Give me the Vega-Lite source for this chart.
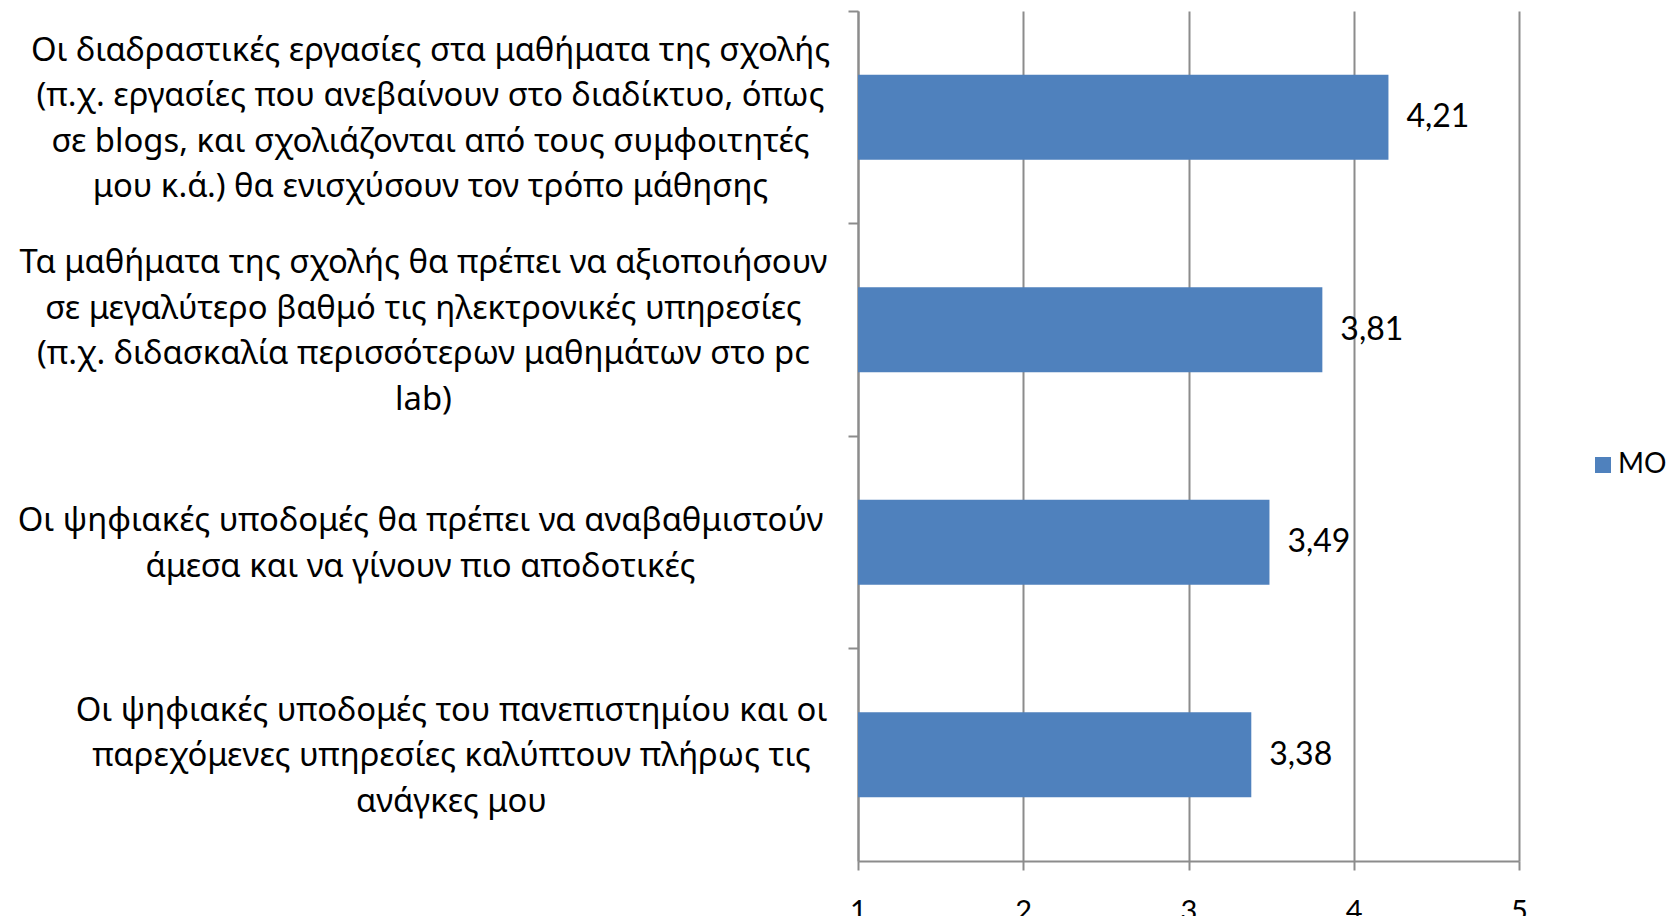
{
  "$schema": "https://vega.github.io/schema/vega-lite/v6.json",
  "width": 661,
  "height": 850,
  "autosize": {"type": "none"},
  "padding": {"left": 858, "top": 11, "right": 148, "bottom": 55},
  "background": "white",
  "config": {
    "view": {"stroke": null},
    "locale": {"number": {"decimal": ",", "thousands": ".", "grouping": [3], "currency": ["", " €"]}}
  },
  "data": {
    "values": [
      {"q": "Οι διαδραστικές εργασίες στα μαθήματα της σχολής\n(π.χ. εργασίες που ανεβαίνουν στο διαδίκτυο, όπως\nσε blogs, και σχολιάζονται από τους συμφοιτητές\nμου κ.ά.) θα ενισχύσουν τον τρόπο μάθησης", "value": 4.21, "series": "ΜΟ"},
      {"q": "Τα μαθήματα της σχολής θα πρέπει να αξιοποιήσουν\nσε μεγαλύτερο βαθμό τις ηλεκτρονικές υπηρεσίες\n(π.χ. διδασκαλία περισσότερων μαθημάτων στο pc\nlab)", "value": 3.81, "series": "ΜΟ"},
      {"q": "Οι ψηφιακές υποδομές θα πρέπει να αναβαθμιστούν\nάμεσα και να γίνουν πιο αποδοτικές", "value": 3.49, "series": "ΜΟ"},
      {"q": "Οι ψηφιακές υποδομές του πανεπιστημίου και οι\nπαρεχόμενες υπηρεσίες καλύπτουν πλήρως τις\nανάγκες μου", "value": 3.38, "series": "ΜΟ"}
    ]
  },
  "encoding": {
    "y": {
      "field": "q",
      "type": "nominal",
      "sort": null,
      "scale": {"paddingInner": 0, "paddingOuter": 0},
      "axis": {
        "title": null,
        "bandPosition": 0,
        "tickSize": 10,
        "tickWidth": 2,
        "tickColor": "#8c8c8c",
        "domainColor": "#8c8c8c",
        "domainWidth": 2,
        "grid": false,
        "labelAlign": "center",
        "labelBaseline": "middle",
        "labelPadding": 418,
        "labelFont": "Noto Sans",
        "labelFontSize": 32.8,
        "labelLineHeight": 45.5,
        "labelColor": "black",
        "labelLimit": 0,
        "labelExpr": "split(datum.value, '\\n')",
        "encoding": {
          "labels": {
            "dy": {"value": {"expr": "1.5 - (length(split(datum.value, '\\n')) - 1) * 22.75"}},
            "dx": {"value": {"expr": "datum.index > 0.9 ? 21 : datum.index > 0.5 ? -10 : datum.index > 0.2 ? -7 : 0"}}
          }
        }
      }
    }
  },
  "layer": [
    {
      "mark": {"type": "bar", "height": {"band": 0.4}},
      "encoding": {
        "x": {
          "field": "value",
          "type": "quantitative",
          "scale": {"domain": [1, 5], "zero": false, "nice": false},
          "axis": {
            "title": null,
            "values": [1, 2, 3, 4, 5],
            "format": "d",
            "grid": true,
            "gridColor": "#8c8c8c",
            "gridWidth": 2,
            "domainColor": "#8c8c8c",
            "domainWidth": 2,
            "tickColor": "#8c8c8c",
            "tickWidth": 2,
            "tickSize": 9,
            "labelFont": "Lato",
            "labelFontSize": 29,
            "labelColor": "black",
            "labelPadding": 27,
            "labelBaseline": "top",
            "labelFlush": false
          }
        },
        "x2": {"datum": 1},
        "color": {
          "field": "series",
          "type": "nominal",
          "scale": {"range": ["#4f81bd"]},
          "legend": {
            "title": null,
            "orient": "none",
            "legendX": 731,
            "legendY": 440,
            "symbolType": "square",
            "symbolSize": 256,
            "symbolStrokeWidth": 0,
            "labelFont": "Lato",
            "labelFontSize": 28,
            "labelColor": "black",
            "labelOffset": 1,
            "labelLimit": 0,
            "padding": 0
          }
        }
      }
    },
    {
      "mark": {"type": "text", "align": "left", "baseline": "middle", "dx": 18, "font": "Lato", "fontSize": 32, "color": "black"},
      "encoding": {
        "x": {"field": "value", "type": "quantitative"},
        "text": {"field": "value", "type": "quantitative", "format": ".2f"}
      }
    }
  ]
}
